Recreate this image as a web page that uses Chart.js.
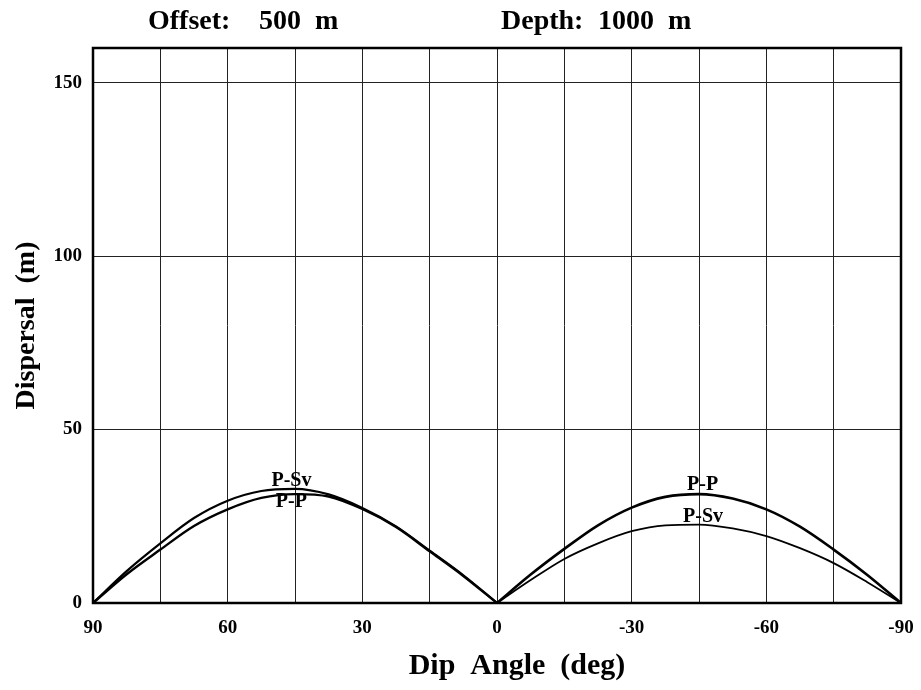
<!DOCTYPE html>
<html>
<head>
<meta charset="utf-8">
<title>Dispersal vs Dip Angle</title>
<script src="https://cdn.jsdelivr.net/npm/chart.js@4.4.1/dist/chart.umd.min.js"></script>
<style>
  html, body { margin: 0; padding: 0; background: #fff; }
  #wrap { position: relative; width: 921px; height: 690px; }
</style>
</head>
<body>
<div id="wrap"><canvas id="chart" width="921" height="690"></canvas></div>
<script>
// ---------- data ----------
const leftDips  = [90, 82.5, 75, 67.5, 60, 52.5, 45, 37.5, 30, 22.5, 15, 7.5, 0];
const rightDips = [0, -7.5, -15, -22.5, -30, -37.5, -45, -52.5, -60, -67.5, -75, -82.5, -90];

const ppLeft   = [0, 8.3, 15.4, 22.2, 27.0, 30.3, 31.4, 30.7, 27.1, 21.9, 14.9, 7.8, 0];
const ppRight  = [0, 8.2, 15.6, 22.4, 27.5, 30.6, 31.4, 30.1, 27.0, 22.0, 15.4, 8.1, 0];
const psvLeft  = [0, 9.2, 17.2, 24.5, 29.5, 32.3, 32.9, 31.3, 27.4, 22.1, 15.1, 8.0, 0];
const psvRight = [0, 6.6, 12.7, 17.2, 20.7, 22.4, 22.6, 21.5, 19.3, 15.8, 11.5, 6.0, 0];

const labelTexts  = ['P-Sv', 'P-P', 'P-P', 'P-Sv'];
const labelDips   = [45.8, 45.8, -45.8, -45.9];
const labelValues = [35.3, 29.1, 34.2, 24.9];

const xTickStep = 15, xLabelStep = 30;
const yTickStep = 50;

// ---------- helpers ----------
const SERIF = '"Liberation Serif", "DejaVu Serif", serif';
function pts(xs, ys){ return xs.map((x, i) => ({ x: x, y: ys[i] })); }

const frameAndText = {
  id: 'frameAndText',
  afterDraw(chart){
    const { ctx, chartArea: a, scales } = chart;
    ctx.save();
    // frame
    ctx.strokeStyle = '#000';
    ctx.lineWidth = 2.5;
    ctx.strokeRect(a.left, a.top, a.right - a.left, a.bottom - a.top);

    // curve labels
    ctx.fillStyle = '#000';
    ctx.font = 'bold 20px ' + SERIF;
    ctx.textAlign = 'center';
    ctx.textBaseline = 'middle';
    labelTexts.forEach((t, i) => {
      ctx.fillText(t, scales.x.getPixelForValue(labelDips[i]), scales.y.getPixelForValue(labelValues[i]));
    });

    // header
    ctx.font = 'bold 28px ' + SERIF;
    ctx.textAlign = 'left';
    ctx.textBaseline = 'alphabetic';
    ctx.fillText('Offset:', 148, 29);
    ctx.fillText('500  m', 259, 29);
    ctx.fillText('Depth:', 501, 29);
    ctx.fillText('1000  m', 598, 29);

    // x-axis title (sits a little right of the plot centre in the original)
    ctx.font = 'bold 30px ' + SERIF;
    ctx.textAlign = 'center';
    ctx.textBaseline = 'middle';
    ctx.fillText('Dip  Angle  (deg)', 517, 666);
    ctx.restore();
  }
};

const lineBase = { borderColor: '#000', pointRadius: 0, fill: false, cubicInterpolationMode: 'monotone' };

new Chart(document.getElementById('chart'), {
  type: 'scatter',
  data: {
    datasets: [
      Object.assign({ label: 'P-P',  data: pts(leftDips, ppLeft),   borderWidth: 2.4 }, lineBase),
      Object.assign({ label: 'P-P',  data: pts(rightDips, ppRight), borderWidth: 2.6 }, lineBase),
      Object.assign({ label: 'P-Sv', data: pts(leftDips, psvLeft),  borderWidth: 2.2 }, lineBase),
      Object.assign({ label: 'P-Sv', data: pts(rightDips, psvRight),borderWidth: 1.8 }, lineBase)
    ]
  },
  options: {
    responsive: false,
    animation: false,
    showLine: true,
    layout: { padding: { top: 48, right: 20, left: 0, bottom: 0 } },
    plugins: { legend: { display: false }, tooltip: { enabled: false }, title: { display: false } },
    scales: {
      x: {
        type: 'linear',
        min: -90, max: 90, reverse: true,
        afterFit(scale){ scale.height = 87; scale.paddingLeft = 0; scale.paddingRight = 0; },
        grid: { color: '#222', lineWidth: 1, drawTicks: false },
        border: { display: false },
        ticks: {
          stepSize: xTickStep,
          padding: 14,
          color: '#000',
          font: { family: SERIF, size: 19, weight: 'bold' },
          maxRotation: 0,
          autoSkip: false,
          callback: v => (v % xLabelStep === 0 ? String(v) : '')
        },
        title: { display: false, text: 'Dip  Angle  (deg)' }
      },
      y: {
        type: 'linear',
        min: 0, max: 160,
        afterFit(scale){ scale.width = 93; },
        grid: { color: '#222', lineWidth: 1, drawTicks: false },
        border: { display: false },
        ticks: {
          stepSize: yTickStep,
          padding: 11,
          color: '#000',
          font: { family: SERIF, size: 19, weight: 'bold' },
          callback: v => (v % yTickStep === 0 ? String(v) : '')
        },
        title: {
          display: true,
          text: 'Dispersal  (m)',
          color: '#000',
          font: { family: SERIF, size: 28, weight: 'bold' },
          padding: { top: 10, bottom: 0 }
        }
      }
    }
  },
  plugins: [frameAndText]
});
</script>
</body>
</html>
